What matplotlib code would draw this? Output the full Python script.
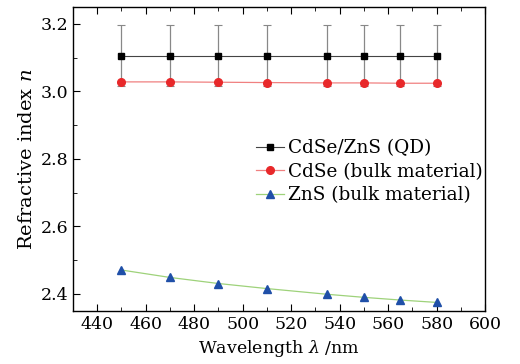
import matplotlib
matplotlib.use("Agg")
import matplotlib.pyplot as plt
from matplotlib.ticker import MultipleLocator

plt.rcParams["font.family"] = ["DejaVu Serif"]
plt.rcParams["mathtext.fontset"] = "dejavuserif"

# Datos
wavelength = [450, 470, 490, 510, 535, 550, 565, 580]
n_qd = [3.105, 3.105, 3.105, 3.105, 3.105, 3.105, 3.105, 3.105]
n_qd_err = [0.09, 0.09, 0.09, 0.09, 0.09, 0.09, 0.09, 0.09]
n_cdse = [3.028, 3.028, 3.027, 3.026, 3.025, 3.025, 3.024, 3.024]
n_zns = [2.471, 2.449, 2.431, 2.416, 2.399, 2.390, 2.382, 2.375]

fig = plt.figure(figsize=(5.2, 3.64), dpi=100)
ax = fig.add_axes([0.140, 0.146, 0.793, 0.835])

ax.errorbar(wavelength, n_qd, yerr=n_qd_err, fmt="none",
            ecolor="#888888", elinewidth=0.9, capsize=3, capthick=0.8, zorder=2)
l1, = ax.plot(wavelength, n_qd, color="#444444", lw=0.8, marker="s", ms=5,
              mfc="black", mec="black", label="CdSe/ZnS (QD)", zorder=3)
l2, = ax.plot(wavelength, n_cdse, color="#f08080", lw=0.9, marker="o", ms=5.5,
              mfc="#e8282a", mec="#e8282a", label="CdSe (bulk material)", zorder=4)
l3, = ax.plot(wavelength, n_zns, color="#9ed27a", lw=0.9, marker="^", ms=5.5,
              mfc="#1f4fa8", mec="#1f4fa8", label="ZnS (bulk material)", zorder=4)

ax.set_xlim(430, 600)
ax.set_ylim(2.35, 3.25)
ax.xaxis.set_major_locator(MultipleLocator(20))
ax.xaxis.set_minor_locator(MultipleLocator(10))
ax.yaxis.set_major_locator(MultipleLocator(0.2))
ax.yaxis.set_minor_locator(MultipleLocator(0.1))
ax.tick_params(which="both", direction="in", top=True, right=False, labelsize=12.5)
ax.tick_params(which="major", length=5)
ax.tick_params(which="minor", length=3)
for s in ax.spines.values():
    s.set_linewidth(1.0)

ax.set_xlabel(r"Wavelength $\lambda$ /nm", fontsize=12.5, labelpad=4)
ax.set_ylabel(r"Refractive index $n$", fontsize=14, labelpad=3)

ax.legend(handles=[l1, l2, l3], loc="upper left", bbox_to_anchor=(0.445, 0.565),
          frameon=False, fontsize=13.3, handlelength=1.5, handletextpad=0.2,
          labelspacing=0.3, borderaxespad=0, borderpad=0)

fig.savefig("out.png", dpi=100)
plt.close(fig)
